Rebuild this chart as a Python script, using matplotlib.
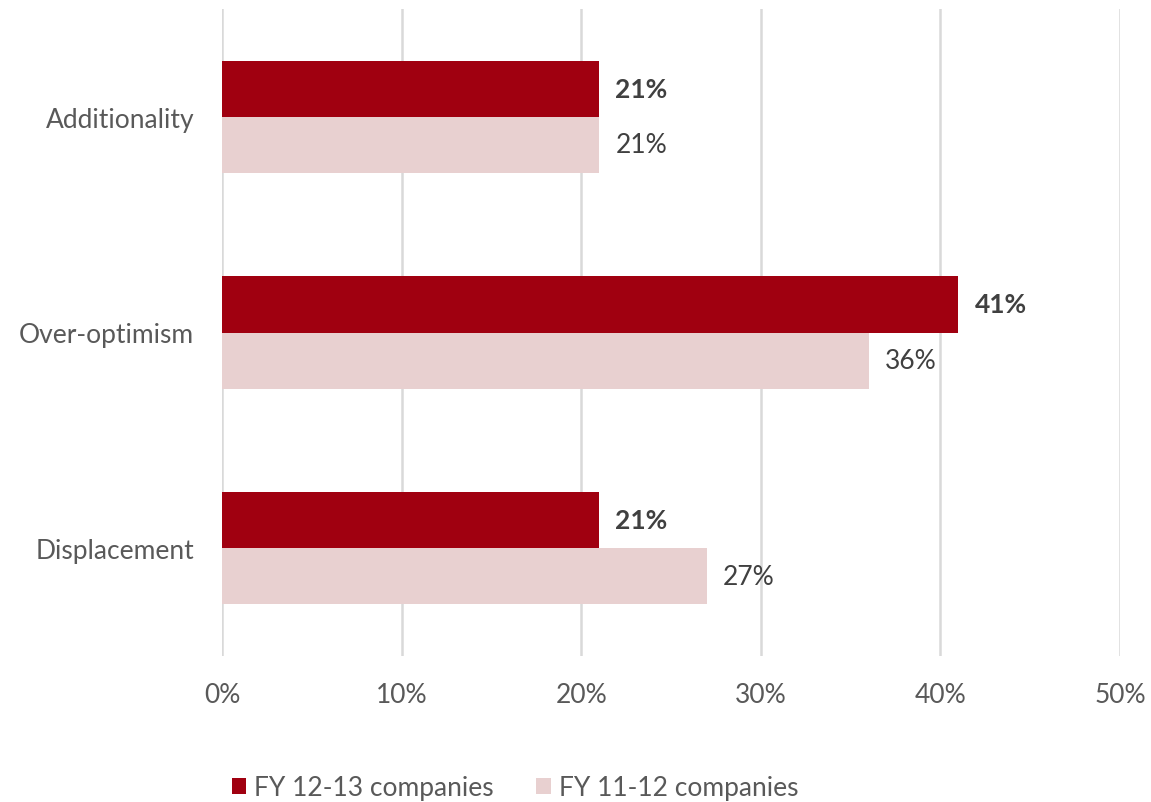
import matplotlib
matplotlib.use("Agg")
import matplotlib.pyplot as plt
import numpy as np

categories = ["Additionality", "Over-optimism", "Displacement"]
fy1213 = [21, 41, 21]
fy1112 = [21, 36, 27]
series_names = ["FY 12-13 companies", "FY 11-12 companies"]
xticks = [0, 10, 20, 30, 40, 50]
xtick_labels = ["0%", "10%", "20%", "30%", "40%", "50%"]

dark = "#A00010"
light = "#E8D0D0"
grid_c = "#D9D9D9"
txt = "#595959"
lbl = "#404040"

plt.rcParams['font.family'] = ['Lato', 'DejaVu Sans']

W, H = 1151, 803
fig = plt.figure(figsize=(W/100, H/100), dpi=100)
ax = fig.add_axes([222/W, 1-657/H, (1120-222)/W, (657-10)/H])

y = np.arange(len(categories))
h = 0.26
b1 = ax.barh(y - h/2, fy1213, height=h, color=dark, label=series_names[0], zorder=3)
b2 = ax.barh(y + h/2, fy1112, height=h, color=light, label=series_names[1], zorder=3)

fs = 19
for yi, v in zip(y, fy1213):
    ax.text(v + 0.9, yi - h/2, f"{v}%", va="center", ha="left", fontsize=fs,
            fontweight="bold", color=lbl)
for yi, v in zip(y, fy1112):
    ax.text(v + 0.9, yi + h/2, f"{v}%", va="center", ha="left", fontsize=fs,
            color=lbl)

ax.set_xlim(0, 50)
ax.set_ylim(2.5, -0.5)
ax.set_xticks(xticks)
ax.set_xticklabels(xtick_labels)
ax.set_yticks(y)
ax.set_yticklabels(categories)
ax.tick_params(axis="x", length=0, pad=19, labelsize=fs, labelcolor=txt)
ax.tick_params(axis="y", length=0, pad=20, labelsize=fs, labelcolor=txt)
for s in ax.spines.values():
    s.set_visible(False)
ax.grid(axis="x", color=grid_c, linewidth=1.8, zorder=0)
ax.set_axisbelow(True)

leg = fig.legend(handles=[b1, b2], labels=series_names, loc="center",
                 bbox_to_anchor=(515/W, 1-789/H), ncol=2, frameon=False,
                 fontsize=fs, handlelength=0.55, handleheight=0.55,
                 handletextpad=0.3, columnspacing=1.6)
for t in leg.get_texts():
    t.set_color(txt)

fig.savefig("out.png", dpi=100)
